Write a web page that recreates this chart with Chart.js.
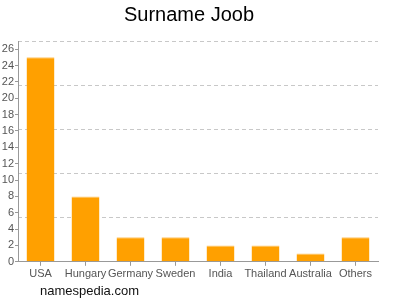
<!DOCTYPE html>
<html>
<head>
<meta charset="utf-8">
<script src="https://cdn.jsdelivr.net/npm/chart.js@4"></script>
<style>
  html, body { margin: 0; padding: 0; background: #fff; }
  #wrap { width: 400px; height: 300px; }
</style>
</head>
<body>
<div id="wrap"><canvas id="nCanvas" width="400" height="300"></canvas></div>
<script>
var countries = ['USA', 'Hungary', 'Germany', 'Sweden', 'India', 'Thailand', 'Australia', 'Others'];
var counts = [25, 8, 3, 3, 2, 2, 1, 3];
var titleText = 'Surname Joob';
var siteText = 'namespedia.com';

var fontFamily = '"Liberation Sans", Arial, Helvetica, sans-serif';

// watermark under the axis labels
var siteLabel = {
  id: 'siteLabel',
  afterDraw: (chart) => {
    var ctx = chart.ctx;
    ctx.save();
    ctx.font = '13px ' + fontFamily;
    ctx.fillStyle = '#111';
    ctx.textBaseline = 'middle';
    ctx.fillText(siteText, 40, 291);
    ctx.restore();
  }
};

new Chart(
  document.getElementById('nCanvas'),
  {
    type: 'bar',
    plugins: [siteLabel],
    data: {
      labels: countries,
      datasets: [
        {
          data: counts,
          backgroundColor: '#ffa000',
          borderColor: '#ffc76a',
          borderWidth: {top: 1, left: 0, right: 0, bottom: 0},
          borderSkipped: 'bottom',
          barPercentage: 0.62,
          categoryPercentage: 1,
        },
      ]
    },
    options: {
      responsive: false,
      animation: false,
      layout: {
        padding: {left: 0, right: 22, top: 0, bottom: 17}
      },
      plugins: {
        legend: {display: false},
        tooltip: {enabled: false},
        title: {
          display: true,
          text: titleText,
          color: '#000',
          font: {family: fontFamily, size: 20, weight: 'normal'},
          padding: {top: 3, bottom: 14}
        }
      },
      scales: {
        x: {
          offset: true,
          grid: {
            offset: false,
            color: 'transparent',
            tickColor: '#999',
            tickLength: 4,
          },
          border: {display: true, color: '#999'},
          ticks: {
            color: '#555',
            font: {family: fontFamily, size: 11},
            padding: 2,
            maxRotation: 0,
            autoSkip: false,
          }
        },
        y: {
          min: 0,
          max: 27,
          afterFit: (scale) => { scale.width = 18; },
          grid: {
            color: 'transparent',
            tickColor: '#999',
            tickLength: 3,
          },
          border: {display: true, color: '#999'},
          ticks: {
            stepSize: 2,
            autoSkip: false,
            includeBounds: false,
            color: '#555',
            font: {family: fontFamily, size: 11},
            padding: 1,
          }
        },
        y2: {
          position: 'right',
          min: 0,
          max: 27,
          afterFit: (scale) => { scale.width = 0; },
          grid: {
            drawTicks: false,
            color: (c) => c.tick.value === 0 ? 'transparent' : '#c8c8c8',
          },
          border: {display: false, dash: [4, 3]},
          ticks: {display: false, stepSize: 5.4}
        }
      }
    }
  }
);
</script>
</body>
</html>
